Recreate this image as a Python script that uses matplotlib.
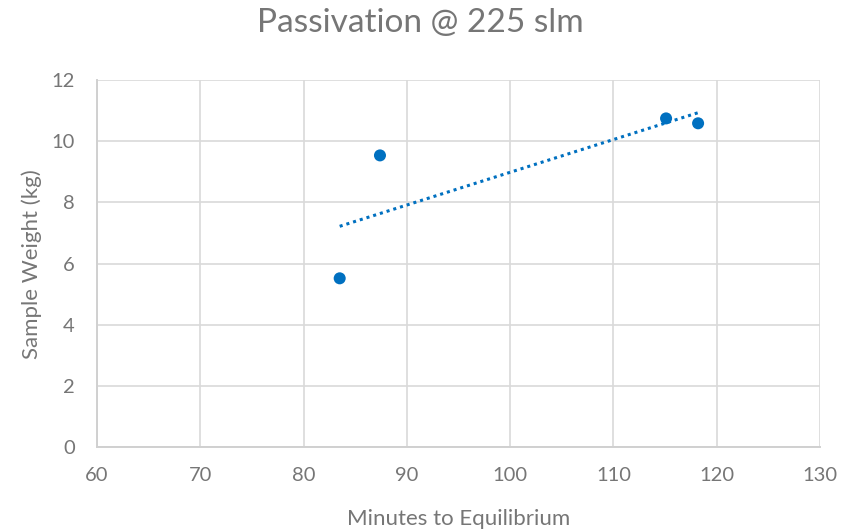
import numpy as np
import matplotlib
matplotlib.use("Agg")
import matplotlib.pyplot as plt

# data
minutes = [83.5, 87.4, 115.1, 118.2]
weight = [5.52, 9.54, 10.75, 10.59]
x_ticks = [60, 70, 80, 90, 100, 110, 120, 130]
y_ticks = [0, 2, 4, 6, 8, 10, 12]

plt.rcParams['font.family'] = ['Lato', 'DejaVu Sans']
text_col = '#767676'
blue = '#0070c0'

fig = plt.figure(figsize=(8.41, 5.31), dpi=100)
ax = fig.add_axes([0.1153, 0.158, 0.8597, 0.691])

ax.scatter(minutes, weight, s=75, color=blue, zorder=3, edgecolors='none')

# linear trendline
m, q = np.polyfit(minutes, weight, 1)
tx = np.array([min(minutes), max(minutes)])
ax.plot(tx, m * tx + q, linestyle=(0, (1, 1.3)), color=blue, linewidth=2.2, zorder=2)

ax.set_xlim(60, 130)
ax.set_ylim(0, 12)
ax.set_xticks(x_ticks)
ax.set_yticks(y_ticks)
ax.grid(True, color='#d9d9d9', linewidth=1.2)
ax.set_axisbelow(True)
for side in ['top', 'right']:
    ax.spines[side].set_visible(False)
for side in ['bottom', 'left']:
    ax.spines[side].set_color('#d0d0d0')
    ax.spines[side].set_linewidth(1.4)
ax.tick_params(length=0, labelsize=14.5, colors=text_col)
ax.tick_params(axis='x', pad=14)
ax.tick_params(axis='y', pad=16)

ax.set_xlabel('Minutes to Equilibrium', fontsize=16, color=text_col, labelpad=18)
ax.set_ylabel('Sample Weight (kg)', fontsize=16, color=text_col, labelpad=7)
fig.suptitle('Passivation @ 225 slm', fontsize=24, color=text_col, y=0.985)

fig.savefig('out.png', dpi=100)
